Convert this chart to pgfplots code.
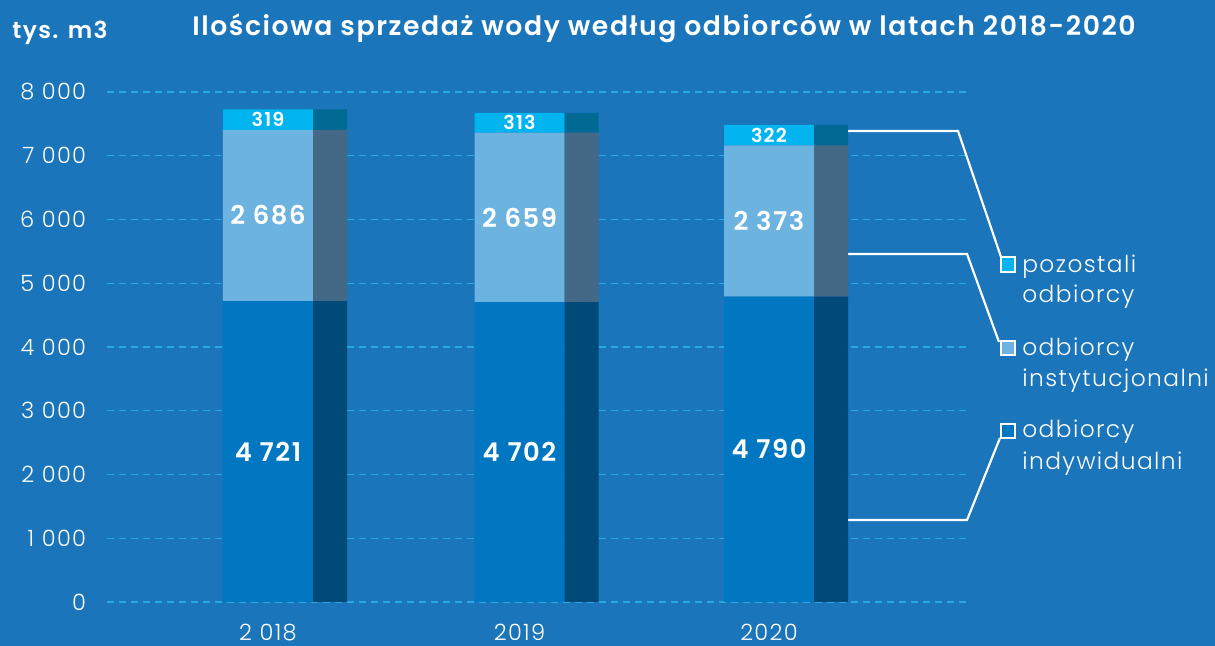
\documentclass[border=0pt]{standalone}
\usepackage{pgfplots}
\usepackage{pgfplotstable}
\pgfplotsset{compat=1.18}
\usepackage{fontspec}
\setmainfont{Poppins Light}[BoldFont={Poppins SemiBold}, LetterSpace=6]
\definecolor{bg}{RGB}{26,117,187}
\definecolor{fb}{RGB}{0,119,192}
\definecolor{sb}{RGB}{0,74,122}
\definecolor{fm}{RGB}{109,179,224}
\definecolor{sm}{RGB}{67,105,135}
\definecolor{ft}{RGB}{0,180,239}
\definecolor{st}{RGB}{0,106,148}
\definecolor{gridc}{RGB}{41,169,225}
\pgfplotstableread{
x bottom mid top
268 4721 2686 319
519.5 4702 2659 313
769 4790 2373 322
}\sales
\pgfplotsset{base/.style={
  x=0.6pt, y=0.03825pt,
  xmin=107, xmax=968, ymin=0, ymax=8000,
  clip=false,
  axis line style={draw=none},
  tick style={draw=none},
  ybar stacked,
}}
\tikzset{
  vbig/.style={text=white, font=\bfseries\fontsize{15.5}{17}\selectfont},
  vsmall/.style={text=white, font=\bfseries\fontsize{11.5}{13}\selectfont},
  leg/.style={text=white, anchor=base west, inner sep=0pt, font=\fontsize{14}{16}\selectfont},
  sq/.style={draw=white, line width=1.3pt, minimum size=8.8pt, inner sep=0pt},
}
\begin{document}
\begin{tikzpicture}
\fill[bg] (-64.2pt,-26.4pt) rectangle (664.8pt,361.2pt);
\useasboundingbox (-64.2pt,-26.4pt) rectangle (664.8pt,361.2pt);
\begin{axis}[base,
  ymajorgrids,
  major grid style={gridc, line width=0.7pt, dash pattern=on 4.2pt off 3pt},
  ytick={0,1000,...,8000},
  yticklabels={0,1 000,2 000,3 000,4 000,5 000,6 000,7 000,8 000},
  xtick={268,519.5,769},
  xticklabels={2 018,2019,2020},
  tick label style={font=\fontsize{13.5}{15}\selectfont, text=white},
  yticklabel style={anchor=east, xshift=-9pt},
  xticklabel style={yshift=-9.5pt},
  bar width=90, bar shift=0,
]
\addplot[fill=fb, draw=none] table[x=x, y=bottom] {\sales};
\addplot[fill=fm, draw=none] table[x=x, y=mid] {\sales};
\addplot[fill=ft, draw=none] table[x=x, y=top] {\sales};
\node[text=white, font=\bfseries\fontsize{16}{18}\selectfont] at (axis cs:664,9004) {Ilościowa sprzedaż wody według odbiorców w latach 2018-2020};
\node[text=white, font=\bfseries\fontsize{14}{16}\selectfont] at (axis cs:60,8925) {tys. m3};
\draw[white, line width=1.3pt] (axis cs:848,7388) -- (axis cs:958,7388) -- (axis cs:1001,5412);
\draw[white, line width=1.3pt] (axis cs:848,5459) -- (axis cs:967,5459) -- (axis cs:999,4078);
\draw[white, line width=1.3pt] (axis cs:848,1286) -- (axis cs:967,1286) -- (axis cs:1000,2573);
\node[sq, fill=ft] at (axis cs:1008,5294) {};
\node[sq, fill=fm] at (axis cs:1008,3984) {};
\node[sq, fill=fb] at (axis cs:1008,2682) {};
\node[leg] at (axis cs:1022,5176) {pozostali};
\node[leg] at (axis cs:1022,4690) {odbiorcy};
\node[leg] at (axis cs:1022,3874) {odbiorcy};
\node[leg] at (axis cs:1022,3373) {instytucjonalni};
\node[leg] at (axis cs:1022,2573) {odbiorcy};
\node[leg] at (axis cs:1022,2071) {indywidualni};
\end{axis}
\begin{axis}[base, xtick=\empty, ytick=\empty, bar width=34, bar shift=62]
\addplot[fill=sb, draw=none] table[x=x, y=bottom] {\sales};
\addplot[fill=sm, draw=none] table[x=x, y=mid] {\sales};
\addplot[fill=st, draw=none] table[x=x, y=top] {\sales};
\node[vbig] at (axis cs:268,2360) {4 721};
\node[vbig] at (axis cs:519.5,2351) {4 702};
\node[vbig] at (axis cs:769,2395) {4 790};
\node[vbig] at (axis cs:268,6064) {2 686};
\node[vbig] at (axis cs:519.5,6031) {2 659};
\node[vbig] at (axis cs:769,5976) {2 373};
\node[vsmall] at (axis cs:268,7566) {319};
\node[vsmall] at (axis cs:519.5,7517) {313};
\node[vsmall] at (axis cs:769,7324) {322};
\end{axis}
\end{tikzpicture}
\end{document}
